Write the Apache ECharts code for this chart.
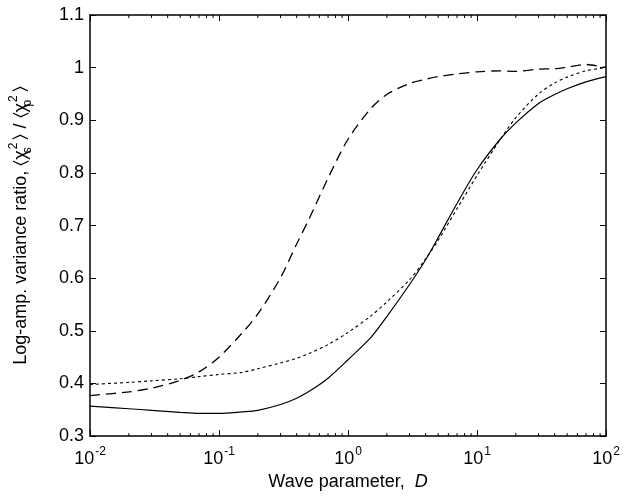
<!DOCTYPE html>
<html>
<head>
<meta charset="utf-8">
<script src="https://cdn.jsdelivr.net/npm/echarts@6/dist/echarts.min.js"></script>
<style>
  html, body { margin: 0; padding: 0; background: #fff; }
  #chart { width: 639px; height: 496px; }
</style>
</head>
<body>
<div id="chart"></div>
<script>
// Wave parameter D (log scale) sample points
const waveParam = [0.01, 0.02, 0.03, 0.05, 0.07, 0.1, 0.15, 0.2, 0.3, 0.4, 0.5, 0.7,
                   1, 1.5, 2, 3, 4, 5, 7, 10, 15, 20, 30, 40, 50, 70, 100];

// Log-amplitude variance ratio curves
const solidRatio  = [0.357, 0.352, 0.349, 0.345, 0.343, 0.343, 0.346, 0.349, 0.360, 0.372, 0.385, 0.410,
                     0.445, 0.487, 0.527, 0.588, 0.635, 0.677, 0.742, 0.806, 0.863, 0.895, 0.932, 0.949, 0.960, 0.973, 0.983];
const dashedRatio = [0.377, 0.384, 0.391, 0.406, 0.422, 0.450, 0.495, 0.532, 0.601, 0.665, 0.713, 0.790,
                     0.864, 0.922, 0.949, 0.970, 0.978, 0.983, 0.988, 0.992, 0.994, 0.993, 0.997, 0.998, 1.001, 1.006, 1.000];
const dottedRatio = [0.398, 0.402, 0.405, 0.409, 0.413, 0.417, 0.421, 0.428, 0.439, 0.448, 0.457, 0.474,
                     0.497, 0.528, 0.555, 0.597, 0.637, 0.672, 0.732, 0.795, 0.862, 0.905, 0.950, 0.971, 0.982, 0.994, 1.000];

// Axis ranges and tick layout
const xMin = 0.01, xMax = 100;
const yMin = 0.3, yMax = 1.1, yStep = 0.1;
const decades = [0.01, 0.1, 1, 10];
const minorMultipliers = [2, 3, 4, 5, 6, 7, 8, 9];
const minorTicks = [];
decades.forEach(d => minorMultipliers.forEach(m => minorTicks.push([d * m, yMin])));

const FONT = '"Liberation Sans", Arial, Helvetica, sans-serif';

function pairs(ys) { return waveParam.map((x, i) => [x, ys[i]]); }

const chart = echarts.init(document.getElementById('chart'), null, { renderer: 'canvas' });

const frameLine = { show: true, lineStyle: { color: '#000', width: 1.5 } };

const option = {
  animation: false,
  backgroundColor: '#fff',
  grid: { left: 90, right: 33, top: 15, bottom: 57, containLabel: false },
  xAxis: [
    {
      type: 'log', logBase: 10, min: xMin, max: xMax, splitNumber: 4,
      position: 'bottom',
      axisLine: frameLine,
      axisTick: { show: true, inside: true, length: 6, lineStyle: { color: '#000', width: 1 } },
      splitLine: { show: false },
      axisLabel: {
        margin: 10,
        formatter: v => '{b|10}{e|' + Math.round(Math.log10(v)) + '}',
        rich: {
          b: { fontFamily: FONT, fontSize: 18, color: '#000', lineHeight: 22, verticalAlign: 'bottom' },
          e: { fontFamily: FONT, fontSize: 12, color: '#000', lineHeight: 22, verticalAlign: 'top', padding: [0, 0, 0, 1] }
        }
      },
      name: '{t|Wave parameter,  }{i|D}',
      nameLocation: 'middle', nameGap: 30,
      nameTextStyle: {
        rich: {
          t: { fontFamily: FONT, fontSize: 18, color: '#000' },
          i: { fontFamily: FONT, fontSize: 18, color: '#000', fontStyle: 'italic' }
        }
      }
    },
    {
      type: 'log', logBase: 10, min: xMin, max: xMax, splitNumber: 4,
      position: 'top',
      axisLine: frameLine,
      axisTick: { show: true, inside: true, length: 6, lineStyle: { color: '#000', width: 1 } },
      axisLabel: { show: false },
      splitLine: { show: false }
    }
  ],
  yAxis: [
    {
      type: 'value', min: yMin, max: yMax, interval: yStep,
      position: 'left',
      axisLine: frameLine,
      axisTick: { show: true, inside: true, length: 6, lineStyle: { color: '#000', width: 1 } },
      splitLine: { show: false },
      axisLabel: {
        margin: 6, color: '#000', fontFamily: FONT, fontSize: 18,
        formatter: v => String(parseFloat(v.toFixed(1)))
      },
      name: '{t|Log-amp. variance ratio, \u2329\u03c7}{sb|s}{sp|2}{t|\u232a / \u2329\u03c7}{sb|p}{sp|2}{t|\u232a}',
      nameLocation: 'middle', nameGap: 56, nameRotate: 90,
      nameTextStyle: {
        rich: {
          t: { fontFamily: FONT, fontSize: 18, color: '#000', lineHeight: 26, verticalAlign: 'middle' },
          sb: { fontFamily: FONT, fontSize: 12, color: '#000', lineHeight: 26, verticalAlign: 'bottom', width: 0.01, align: 'left' },
          sp: { fontFamily: FONT, fontSize: 12, color: '#000', lineHeight: 26, verticalAlign: 'top', padding: [0, 3, 0, 1] }
        }
      }
    },
    {
      type: 'value', min: yMin, max: yMax, interval: yStep,
      position: 'right',
      axisLine: frameLine,
      axisTick: { show: true, inside: true, length: 6, lineStyle: { color: '#000', width: 1 } },
      axisLabel: { show: false },
      splitLine: { show: false }
    }
  ],
  series: [
    {
      // minor log ticks on bottom and top edges
      type: 'custom', silent: true, clip: false, z: 5,
      xAxisIndex: 0, yAxisIndex: 0,
      data: minorTicks,
      renderItem: (params, api) => {
        const v = api.value(0);
        const pb = api.coord([v, yMin]);
        const pt = api.coord([v, yMax]);
        const st = { stroke: '#000', lineWidth: 1 };
        return {
          type: 'group',
          children: [
            { type: 'line', shape: { x1: pb[0], y1: pb[1], x2: pb[0], y2: pb[1] - 3 }, style: st },
            { type: 'line', shape: { x1: pt[0], y1: pt[1], x2: pt[0], y2: pt[1] + 3 }, style: st }
          ]
        };
      }
    },
    {
      name: 'solid', type: 'line', data: pairs(solidRatio), smooth: 0.3,
      showSymbol: false, symbol: 'none',
      lineStyle: { color: '#000', width: 1.2, type: 'solid' }
    },
    {
      name: 'dashed', type: 'line', data: pairs(dashedRatio), smooth: 0.3,
      showSymbol: false, symbol: 'none',
      lineStyle: { color: '#000', width: 1.3, type: [10, 6] }
    },
    {
      name: 'dotted', type: 'line', data: pairs(dottedRatio), smooth: 0.3,
      showSymbol: false, symbol: 'none',
      lineStyle: { color: '#000', width: 1.1, type: [3, 3] }
    }
  ]
};

chart.setOption(option);
</script>
</body>
</html>
